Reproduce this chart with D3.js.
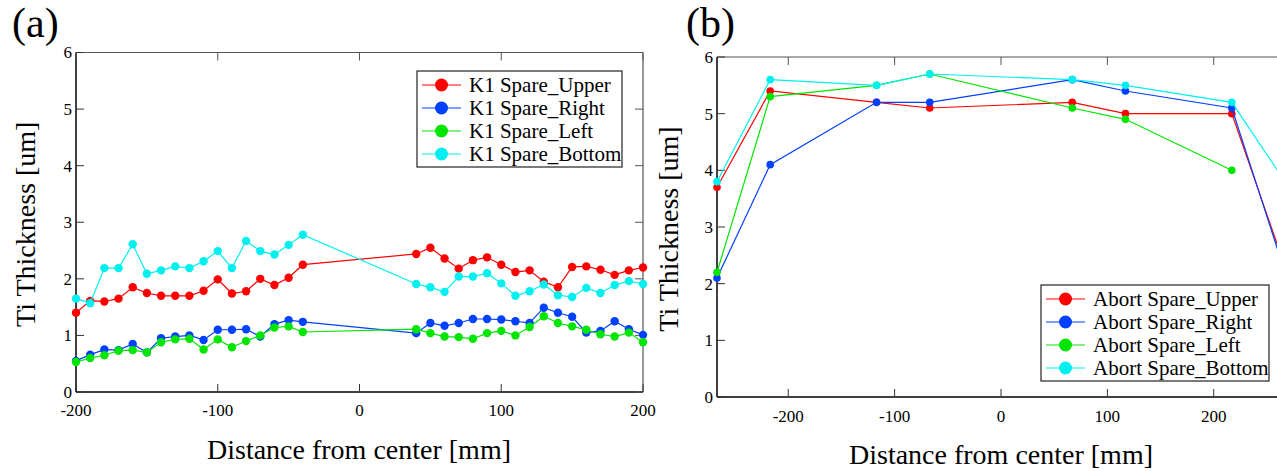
<!DOCTYPE html>
<html lang="en">
<head>
    <meta charset="UTF-8">
    <title>Ti Thickness</title>
    <script src="https://d3js.org/d3.v7.min.js"></script>
    <style>
        body { margin: 0; background: #fff; }
        text { font-family: "Liberation Serif", "Times New Roman", serif; fill: #000; }
        .tick-label { font-size: 17px; }
        .axis-title { font-size: 28px; }
        .panel-label { font-size: 42px; }
        .legend text { font-size: 21px; }
    </style>
</head>
<body>
<script>
    // ---- panel (a) data: K1 spare ----
    const xK1 = [-200, -190, -180, -170, -160, -150, -140, -130, -120, -110, -100, -90, -80, -70, -60, -50, -40,
        40, 50, 60, 70, 80, 90, 100, 110, 120, 130, 140, 150, 160, 170, 180, 190, 200];
    const k1Upper = [1.40, 1.61, 1.60, 1.65, 1.85, 1.75, 1.70, 1.70, 1.70, 1.79, 1.99, 1.74, 1.78, 2.00, 1.89, 2.02, 2.25,
        2.44, 2.55, 2.36, 2.18, 2.33, 2.38, 2.25, 2.12, 2.15, 1.95, 1.85, 2.21, 2.22, 2.16, 2.07, 2.15, 2.20];
    const k1Right = [0.55, 0.66, 0.75, 0.74, 0.85, 0.70, 0.95, 0.98, 1.00, 0.92, 1.10, 1.10, 1.11, 0.98, 1.20, 1.27, 1.24,
        1.04, 1.22, 1.17, 1.22, 1.29, 1.29, 1.28, 1.25, 1.22, 1.49, 1.40, 1.33, 1.05, 1.08, 1.25, 1.11, 1.01];
    const k1Left = [0.53, 0.60, 0.65, 0.73, 0.74, 0.70, 0.88, 0.93, 0.94, 0.75, 0.93, 0.79, 0.90, 1.00, 1.14, 1.16, 1.06,
        1.11, 1.04, 0.98, 0.97, 0.94, 1.04, 1.08, 1.00, 1.15, 1.34, 1.22, 1.16, 1.10, 1.02, 0.98, 1.05, 0.88];
    const k1Bottom = [1.65, 1.57, 2.19, 2.19, 2.61, 2.09, 2.15, 2.22, 2.19, 2.31, 2.49, 2.19, 2.67, 2.49, 2.43, 2.60, 2.78,
        1.91, 1.85, 1.77, 2.04, 2.04, 2.10, 1.92, 1.70, 1.78, 1.90, 1.71, 1.68, 1.84, 1.75, 1.89, 1.96, 1.91];

    // ---- panel (b) data: Abort spare ----
    const xAbort = [-267, -217, -117, -67, 67, 117, 217, 267];
    const abortUpper = [3.7, 5.4, 5.2, 5.1, 5.2, 5.0, 5.0, 2.3];
    const abortRight = [2.1, 4.1, 5.2, 5.2, 5.6, 5.4, 5.1, 2.2];
    const abortLeft = [2.2, 5.3, 5.5, 5.7, 5.1, 4.9, 4.0];
    const abortBottom = [3.8, 5.6, 5.5, 5.7, 5.6, 5.5, 5.2, 3.8];

    const yTicks = [0, 1, 2, 3, 4, 5, 6];
    const colors = ["#ff0000", "#0040ff", "#00e600", "#00f0f0"];

    const width = 1277, height = 471;
    const svg = d3.select("body").append("svg")
        .attr("width", width)
        .attr("height", height);

    function drawPanel(p) {
        const x = d3.scaleLinear().domain(p.xDomain).range([p.left, p.right]);
        const y = d3.scaleLinear().domain([0, 6]).range([p.bottom, p.top]);
        const g = svg.append("g");
        const tickLen = 8;

        // frame + inward ticks
        g.append("line").attr("x1", p.left).attr("x2", p.right).attr("y1", p.top).attr("y2", p.top)
            .attr("stroke", "#555").attr("stroke-width", 1.2);
        g.append("line").attr("x1", p.right).attr("x2", p.right).attr("y1", p.top).attr("y2", p.bottom)
            .attr("stroke", "#555").attr("stroke-width", 1.2);
        g.append("line").attr("x1", p.left).attr("x2", p.left).attr("y1", p.top).attr("y2", p.bottom)
            .attr("stroke", "#000").attr("stroke-width", 1.5);
        g.append("line").attr("x1", p.left).attr("x2", p.right).attr("y1", p.bottom).attr("y2", p.bottom)
            .attr("stroke", "#000").attr("stroke-width", 1.5);

        p.xTicks.forEach(t => {
            g.append("line").attr("x1", x(t)).attr("x2", x(t)).attr("y1", p.bottom).attr("y2", p.bottom - tickLen)
                .attr("stroke", "#333");
            g.append("line").attr("x1", x(t)).attr("x2", x(t)).attr("y1", p.top).attr("y2", p.top + tickLen)
                .attr("stroke", "#555");
            g.append("text").attr("class", "tick-label")
                .attr("x", x(t)).attr("y", p.bottom + p.xLabelGap)
                .attr("text-anchor", "middle")
                .text(t);
        });
        yTicks.forEach(t => {
            g.append("line").attr("x1", p.left).attr("x2", p.left + tickLen).attr("y1", y(t)).attr("y2", y(t))
                .attr("stroke", "#333");
            g.append("line").attr("x1", p.right).attr("x2", p.right - tickLen).attr("y1", y(t)).attr("y2", y(t))
                .attr("stroke", "#555");
            g.append("text").attr("class", "tick-label")
                .attr("x", p.left - 4).attr("y", y(t)).attr("dy", "0.35em")
                .attr("text-anchor", "end")
                .text(t);
        });

        // titles
        g.append("text").attr("class", "axis-title")
            .attr("x", (p.left + p.xTitleCenterOffset)).attr("y", p.xTitleY)
            .attr("text-anchor", "middle")
            .text("Distance from center [mm]");
        g.append("text").attr("class", "axis-title")
            .attr("transform", `translate(${p.yTitleX},${(p.top + p.bottom) / 2 + 2}) rotate(-90)`)
            .attr("text-anchor", "middle")
            .text("Ti Thickness [um]");
        g.append("text").attr("class", "panel-label")
            .attr("x", p.labelX).attr("y", 37)
            .text(p.label);

        // series
        const line = d3.line().x(d => x(d[0])).y(d => y(d[1]));
        p.series.forEach((s, i) => {
            const pts = s.values.map((v, j) => [p.xs[j], v]);
            g.append("path").datum(pts)
                .attr("fill", "none")
                .attr("stroke", colors[i])
                .attr("stroke-width", 1.2)
                .attr("d", line);
            g.selectAll(null).data(pts).enter().append("circle")
                .attr("cx", d => x(d[0]))
                .attr("cy", d => y(d[1]))
                .attr("r", p.r)
                .attr("fill", colors[i]);
        });

        // legend
        const lg = g.append("g").attr("class", "legend")
            .attr("transform", `translate(${p.legend.x},${p.legend.y})`);
        lg.append("rect")
            .attr("width", p.legend.w).attr("height", 96)
            .attr("fill", "#fff").attr("stroke", "#222").attr("stroke-width", 1.2);
        p.series.forEach((s, i) => {
            const row = lg.append("g").attr("transform", `translate(0, ${14 + i * 23})`);
            row.append("line").attr("x1", 5).attr("x2", 44)
                .attr("stroke", colors[i]).attr("stroke-width", 1.2);
            row.append("circle").attr("cx", 24.5).attr("r", 6.5).attr("fill", colors[i]);
            row.append("text").attr("x", 52).attr("dy", "0.33em").text(s.name);
        });
    }

    drawPanel({
        label: "(a)", labelX: 12,
        xs: xK1, xDomain: [-200, 200], xTicks: [-200, -100, 0, 100, 200],
        left: 76, right: 643, top: 52.5, bottom: 392,
        xLabelGap: 24, xTitleY: 459, xTitleCenterOffset: 283, yTitleX: 35,
        r: 4.2,
        series: [
            { name: "K1 Spare_Upper", values: k1Upper },
            { name: "K1 Spare_Right", values: k1Right },
            { name: "K1 Spare_Left", values: k1Left },
            { name: "K1 Spare_Bottom", values: k1Bottom }
        ],
        legend: { x: 417, y: 71, w: 205 }
    });

    drawPanel({
        label: "(b)", labelX: 686,
        xs: xAbort, xDomain: [-267, 267], xTicks: [-200, -100, 0, 100, 200],
        left: 717, right: 1285, top: 57, bottom: 397,
        xLabelGap: 25, xTitleY: 464, xTitleCenterOffset: 284, yTitleX: 678,
        r: 3.8,
        series: [
            { name: "Abort Spare_Upper", values: abortUpper },
            { name: "Abort Spare_Right", values: abortRight },
            { name: "Abort Spare_Left", values: abortLeft },
            { name: "Abort Spare_Bottom", values: abortBottom }
        ],
        legend: { x: 1041, y: 285, w: 228 }
    });
</script>
</body>
</html>
